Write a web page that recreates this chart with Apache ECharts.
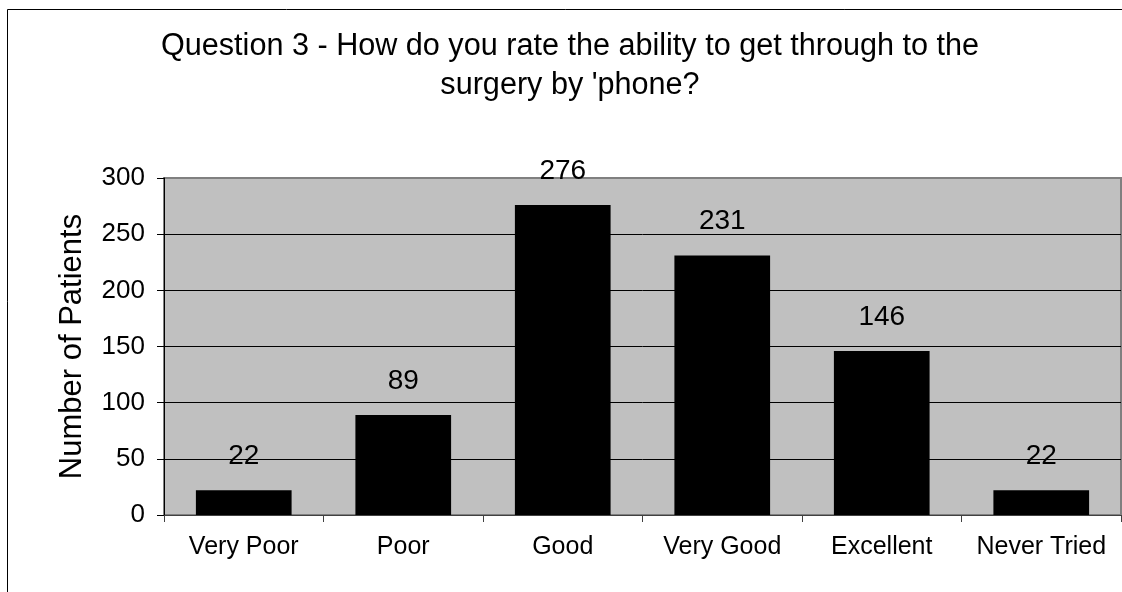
<!DOCTYPE html>
<html>
<head>
<meta charset="utf-8">
<title>Question 3 - phone access rating</title>
<script src="https://cdn.jsdelivr.net/npm/echarts@6/dist/echarts.min.js"></script>
<style>
  html, body { margin: 0; padding: 0; background: #fff; }
  #chart { width: 1122px; height: 592px; }
</style>
</head>
<body>
<div id="chart"></div>
<script>
// Survey answers and patient counts
const categories = ['Very Poor', 'Poor', 'Good', 'Very Good', 'Excellent', 'Never Tried'];
const patients = [22, 89, 276, 231, 146, 22];
const titleLines = ["Question 3 - How do you rate the ability to get through to the", "surgery by 'phone?"];
const axisTitle = 'Number of Patients';

const FONT = '"Liberation Sans", Arial, Helvetica, sans-serif';

const chart = echarts.init(document.getElementById('chart'), null, { renderer: 'canvas' });

chart.setOption({
  animation: false,
  backgroundColor: '#ffffff',
  textStyle: { fontFamily: FONT, color: '#000' },
  graphic: [
    // outer chart frame
    {
      type: 'rect', left: 7, top: 9, z: -10, silent: true,
      shape: { width: 1140, height: 620 },
      style: { fill: '#ffffff', stroke: '#000000', lineWidth: 1 }
    },
    {
      type: 'text', x: 570, y: 46.5, z: 10,
      style: { text: titleLines[0], font: '30.6px ' + FONT, fill: '#000', align: 'center', verticalAlign: 'middle' }
    },
    {
      type: 'text', x: 570, y: 85.5, z: 10,
      style: { text: titleLines[1], font: '30.6px ' + FONT, fill: '#000', align: 'center', verticalAlign: 'middle' }
    }
  ],
  grid: {
    left: 164, right: 1, top: 178, bottom: 77,
    show: true,
    backgroundColor: '#c0c0c0',
    borderColor: '#808080',
    borderWidth: 2
  },
  xAxis: {
    type: 'category',
    data: categories,
    boundaryGap: true,
    axisLine: { show: true, lineStyle: { color: '#404040', width: 1 } },
    axisTick: { show: true, alignWithLabel: false, length: 7, lineStyle: { color: '#404040' } },
    axisLabel: { margin: 20, fontSize: 25, color: '#000', fontFamily: FONT, interval: 0 },
    splitLine: { show: false }
  },
  yAxis: {
    type: 'value',
    min: 0, max: 300, interval: 50,
    name: axisTitle,
    nameLocation: 'middle',
    nameGap: 76,
    nameTextStyle: { fontSize: 31, color: '#000', fontFamily: FONT },
    axisLine: { show: true, lineStyle: { color: '#000', width: 1 } },
    axisTick: { show: true, length: 7, lineStyle: { color: '#000' } },
    axisLabel: { margin: 19, fontSize: 26, color: '#000', fontFamily: FONT },
    splitLine: {
      show: true,
      lineStyle: { color: ['#000', '#000', '#000', '#000', '#000', '#000', '#808080'], width: 1 }
    }
  },
  series: [{
    type: 'bar',
    data: patients,
    barWidth: '60%',
    itemStyle: { color: '#000' },
    label: {
      show: true,
      position: 'top',
      distance: 20,
      fontSize: 28,
      color: '#000',
      fontFamily: FONT
    }
  }]
});
</script>
</body>
</html>
